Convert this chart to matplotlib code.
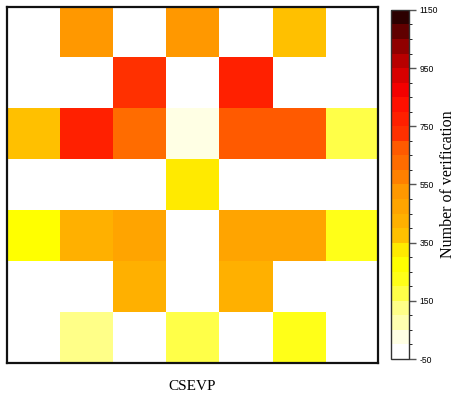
import numpy as np
import matplotlib
matplotlib.use("Agg")
import matplotlib.pyplot as plt
from matplotlib.colors import ListedColormap, BoundaryNorm

# verification counts on the 7x7 grid (top row first), nan = empty cell
row0 = [np.nan, 525, np.nan, 525, np.nan, 375, np.nan]
row1 = [np.nan, np.nan, 725, np.nan, 775, np.nan, np.nan]
row2 = [375, 775, 625, 25, 675, 675, 175]
row3 = [np.nan, np.nan, np.nan, 325, np.nan, np.nan, np.nan]
row4 = [275, 425, 475, np.nan, 475, 475, 225]
row5 = [np.nan, np.nan, 425, np.nan, 425, np.nan, np.nan]
row6 = [np.nan, 125, np.nan, 175, np.nan, 225, np.nan]

levels = np.arange(-50, 1151, 50)
cbar_ticks = [-50, 150, 350, 550, 750, 950, 1150]
xlabel = "CSEVP"
cbar_label = "Number of verification"

grid = np.array([row0, row1, row2, row3, row4, row5, row6], dtype=float)

plt.rcParams['axes.unicode_minus'] = False

colors = ['#ffffff', '#ffffe4', '#ffffb0', '#ffff88', '#ffff48', '#ffff18',
          '#ffff00', '#ffea00', '#ffc000', '#ffb000', '#ffa400', '#ff9800',
          '#ff8000', '#ff6c00', '#ff5a00', '#ff3000', '#ff2000', '#ff1000',
          '#f40000', '#d80000', '#b80000', '#900000', '#600000', '#2c0000']
cmap = ListedColormap(colors)
cmap.set_bad('white')
norm = BoundaryNorm(levels, cmap.N)

fig = plt.figure(figsize=(4.56, 3.94), dpi=100)
ax = fig.add_axes([0.0154, 0.0787, 0.8136, 0.9036])
cax = fig.add_axes([0.857, 0.0888, 0.0395, 0.886])

im = ax.imshow(np.ma.masked_invalid(grid), cmap=cmap, norm=norm,
               aspect='auto', interpolation='nearest')
ax.set_xticks([])
ax.set_yticks([])
for s in ax.spines.values():
    s.set_linewidth(1.6)
    s.set_color('#111111')
ax.set_xlabel(xlabel, family='Liberation Serif', fontsize=11, labelpad=12)

cb = fig.colorbar(im, cax=cax, ticks=cbar_ticks, spacing='proportional')
cb.outline.set_linewidth(1.0)
cb.outline.set_edgecolor('#333333')
cax.tick_params(length=5, width=1, color='#555555', labelsize=6.2, pad=2.5)
for t in cax.get_yticklabels():
    t.set_family('Liberation Sans')
cb.set_label(cbar_label, family='Liberation Serif', fontsize=11.5, labelpad=1.5)

fig.savefig("out.png", dpi=100)
